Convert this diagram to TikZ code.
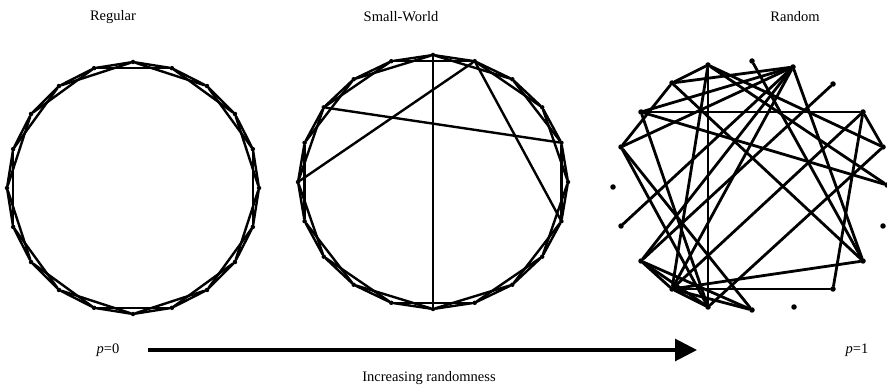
\documentclass[tikz,border=0pt]{standalone}
\usepackage{fontspec}
\setmainfont{Liberation Serif}
\usetikzlibrary{arrows.meta}
\begin{document}
\begin{tikzpicture}[x=1pt,y=-1pt,
  vtx/.style={circle,fill=black,inner sep=0pt,minimum size=4.5pt},
  rvtx/.style={circle,fill=black,inner sep=0pt,minimum size=5.5pt},
  lat/.style={line width=2.4pt,line join=round,line cap=round},
  redge/.style={line width=2.8pt,line cap=round},
  lbl/.style={font=\fontsize{14.5}{17}\selectfont,inner sep=0pt}]
\useasboundingbox (0,0) rectangle (887,390);

% titles
\node[lbl] (t1) at (113,17) {Regular};
\node[lbl] (t2) at (401,17) {Small-World};
\node[lbl] (t3) at (795,17) {Random};

% regular ring lattice
\foreach \i in {0,...,19} {
  \node[vtx] (g\i) at ({133+126*cos(90-18*\i)},{188-126*sin(90-18*\i)}) {};
}
\foreach \i in {0,...,19} {
  \pgfmathtruncatemacro\j{mod(\i+1,20)}
  \pgfmathtruncatemacro\k{mod(\i+2,20)}
  \draw[lat] (g\i) -- (g\j);
  \draw[lat] (g\i) -- (g\k);
}

% small-world
\foreach \i in {0,...,19} {
  \node[vtx] (s\i) at ({433+135*cos(90-18*\i)},{182-127*sin(90-18*\i)}) {};
}
\foreach \i in {0,...,19} {
  \pgfmathtruncatemacro\j{mod(\i+1,20)}
  \pgfmathtruncatemacro\k{mod(\i+2,20)}
  \draw[lat] (s\i) -- (s\j);
  \draw[lat] (s\i) -- (s\k);
}
\draw[lat] (s0) -- (s10);
\draw[lat] (s17) -- (s4);
\draw[lat] (s1) -- (s15);
\draw[lat] (s1) -- (s6);

% random
\node[rvtx] (rA) at (708,65) {};
\node[rvtx] (rB) at (752,61) {};
\node[rvtx] (rC) at (793,67) {};
\node[rvtx] (rD) at (672,83) {};
\node[rvtx] (rE) at (833,84) {};
\node[rvtx] (rF) at (641,112) {};
\node[rvtx] (rG) at (863,112) {};
\node[rvtx] (rH) at (621,147) {};
\node[rvtx] (rI) at (883,147) {};
\node[rvtx] (rJ) at (613,187) {};
\node[rvtx] (rK) at (887,185) {};
\node[rvtx] (rL) at (621,226) {};
\node[rvtx] (rM) at (883,226) {};
\node[rvtx] (rN) at (641,261) {};
\node[rvtx] (rO) at (863,261) {};
\node[rvtx] (rP) at (672,289) {};
\node[rvtx] (rQ) at (833,289) {};
\node[rvtx] (rR) at (708,307) {};
\node[rvtx] (rS) at (752,310) {};
\node[rvtx] (rT) at (794,307) {};
\foreach \a/\b in {A/R,A/D,D/C,A/I,A/K,F/G,P/Q,Q/G,P/O,B/O,C/O,D/O,P/G,R/I,F/K,
  H/C,L/C,E/N,H/S,H/R,A/P,N/P,N/R,P/S,P/R,G/I,C/F,C/N,D/H,N/S,C/P,F/R} {
  \draw[redge] (r\a) -- (r\b);
}

% arrow and labels
\node[lbl] (p0) at (108,350) {\textit{p}=0};
\node[lbl] (p1) at (857,350) {\textit{p}=1};
\coordinate (a0) at (148,350);
\coordinate (a1) at (697,350);
\draw[line width=3pt,-{Triangle[length=22pt,width=22pt]}] (a0) -- (a1);
\node[lbl] (inc) at (429,378) {Increasing randomness};
\end{tikzpicture}
\end{document}
